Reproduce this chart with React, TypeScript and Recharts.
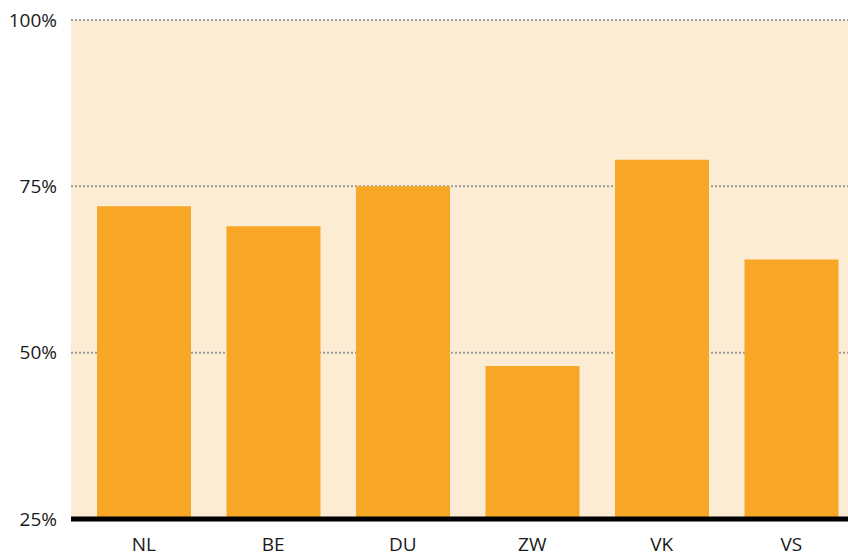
import React from "react";
import { BarChart, Bar, XAxis, YAxis, CartesianGrid } from "recharts";

const regions = ["NL", "BE", "DU", "ZW", "VK", "VS"];
const shares = [72, 69, 75, 48, 79, 64];
const yTicks = [25, 50, 75, 100];

const chartData = regions.map((region, i) => ({ region, share: shares[i] }));

const FONT = "'Open Sans', 'Noto Sans', sans-serif";

export default function App() {
  return (
    <div
      style={{
        position: "absolute",
        left: 0,
        top: 0,
        width: 848,
        height: 554,
        overflow: "hidden",
        background: "#fff",
      }}
    >
      <BarChart
        width={856}
        height={554}
        data={chartData}
        margin={{ top: 20, right: 0, bottom: 0, left: 0 }}
        barSize={94}
      >
        <CartesianGrid
          vertical={false}
          stroke="#9a9a9a"
          strokeWidth={2}
          strokeDasharray="2 2"
          fill="#fdecd4"
          fillOpacity={1}
        />
        <YAxis
          width={71}
          domain={[25, 100]}
          ticks={yTicks}
          tickFormatter={(v: number) => `${v}%`}
          axisLine={false}
          tickLine={false}
          tickSize={0}
          tickMargin={14}
          tick={{ fill: "#1a1a1a", fontSize: 19, fontFamily: FONT }}
        />
        <XAxis
          dataKey="region"
          height={35}
          padding={{ left: 8, right: 0 }}
          axisLine={{ stroke: "#000", strokeWidth: 5 }}
          tickLine={false}
          tickSize={0}
          tickMargin={19}
          tick={{ fill: "#1a1a1a", fontSize: 19, fontFamily: FONT }}
        />
        <Bar dataKey="share" fill="#f8a626" isAnimationActive={false} />
      </BarChart>
    </div>
  );
}
